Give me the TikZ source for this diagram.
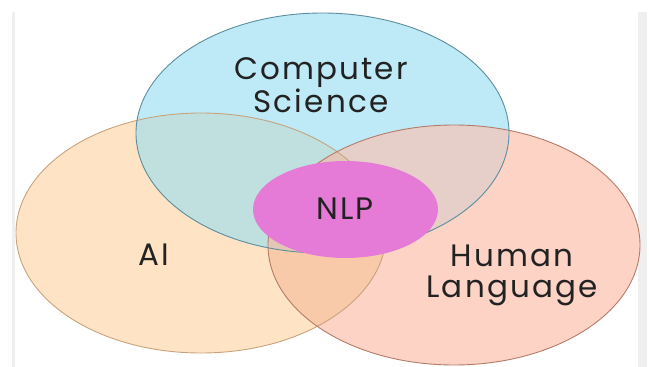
\documentclass[tikz,border=0pt]{standalone}
\usepackage{fontspec}
\setmainfont{Poppins}[LetterSpace=7]
\usetikzlibrary{positioning}
\definecolor{csblue}{HTML}{BEE9F7}
\definecolor{aiorange}{HTML}{FEE3C4}
\definecolor{hlsalmon}{HTML}{FDD3C6}
\definecolor{csai}{HTML}{BFE0DF}
\definecolor{cshl}{HTML}{E6CFC9}
\definecolor{aihl}{HTML}{F9CAAA}
\definecolor{allthree}{HTML}{E2C7B8}
\definecolor{nlppink}{HTML}{E67BD7}
\definecolor{csedge}{HTML}{5C8E9C}
\definecolor{aiedge}{HTML}{C9A37C}
\definecolor{hledge}{HTML}{B47C68}
\definecolor{framegray}{HTML}{EFEFEF}
\definecolor{labelink}{HTML}{222222}
\newcommand{\csset}{(322.5,133) ellipse [x radius=186.5pt, y radius=120pt]}
\newcommand{\aiset}{(201,233) ellipse [x radius=185pt, y radius=120pt]}
\newcommand{\hlset}{(454,245) ellipse [x radius=186pt, y radius=120pt]}

\begin{document}
\begin{tikzpicture}[x=1pt, y=-1pt,
    setlabel/.style={text=labelink, font=\fontsize{31}{31}\selectfont, align=center, inner sep=0pt},
    setedge/.style={line width=0.9pt}]

    \useasboundingbox (0,0) rectangle (649,367);
    \clip (0,0) rectangle (649,367);

    % ---------------- frame strips ----------------
    \fill[framegray] (12,12) rectangle (14.5,367);
    \fill[framegray] (638,12) rectangle (647,367);

    % ---------------- the three sets ----------------
    \fill[aiorange] \aiset;
    \fill[hlsalmon] \hlset;
    \fill[csblue] \csset;

    % pairwise overlaps
    \begin{scope}
        \clip \csset;
        \fill[csai] \aiset;
    \end{scope}
    \begin{scope}
        \clip \csset;
        \fill[cshl] \hlset;
    \end{scope}
    \begin{scope}
        \clip \aiset;
        \fill[aihl] \hlset;
    \end{scope}
    \begin{scope}
        \clip \csset;
        \clip \aiset;
        \fill[allthree] \hlset;
    \end{scope}

    % outlines
    \draw[setedge, aiedge] \aiset;
    \draw[setedge, hledge] \hlset;
    \draw[setedge, csedge] \csset;

    % ---------------- NLP in the middle ----------------
    \fill[nlppink] (345.5,209.5) ellipse [x radius=92.5pt, y radius=48.5pt];

    % ---------------- labels ----------------
    \node[setlabel] (cs) at (321,85) {Computer\\Science};
    \node[setlabel] (ai) at (154,255) {AI};
    \node[setlabel] (hl) at (512,275) {Human\\Language};
    \node[setlabel] (nlp) at (345,209) {NLP};

\end{tikzpicture}
\end{document}
